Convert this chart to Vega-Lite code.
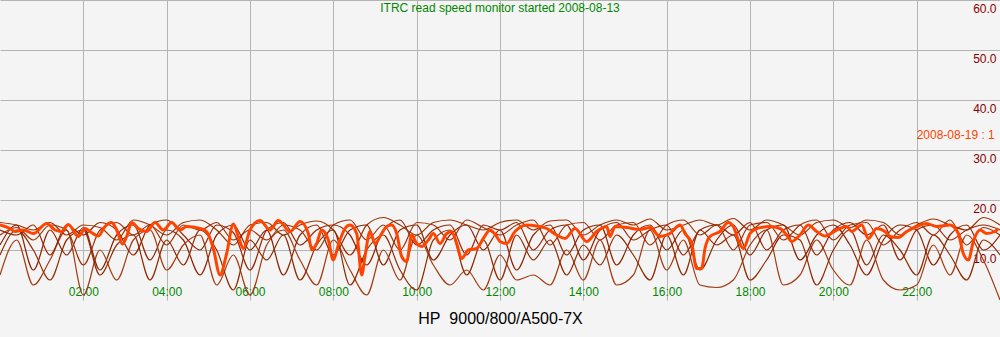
{
"$schema":"https://vega.github.io/schema/vega-lite/v6.json",
"width":1000,"height":300,"autosize":"none","padding":{"top":0,"left":0,"right":0,"bottom":37},
"background":"#f4f4f4",
"config":{"view":{"stroke":null},"font":"Liberation Sans"},
"title":{"text":"ITRC read speed monitor started 2008-08-13","anchor":"middle","color":"#008800","fontSize":12,"fontWeight":"normal","font":"Liberation Sans","baseline":"top","offset":-15},
"datasets":{
"orange":[
{"h":0.00,"v":15.0},{"h":0.24,"v":14.3},{"h":0.36,"v":13.7},{"h":0.56,"v":14.0},{"h":0.80,"v":13.3},{"h":1.12,"v":15.3},{"h":1.32,"v":14.0},{"h":1.48,"v":13.7},{"h":1.64,"v":15.1},{"h":1.88,"v":12.7},{"h":2.04,"v":14.3},{"h":2.16,"v":13.7},{"h":2.36,"v":12.8},{"h":2.52,"v":14.7},{"h":2.68,"v":15.5},{"h":2.80,"v":14.0},{"h":2.94,"v":11.2},{"h":3.04,"v":12.7},{"h":3.16,"v":15.5},{"h":3.32,"v":14.3},{"h":3.52,"v":13.7},{"h":3.72,"v":15.5},{"h":3.92,"v":14.0},{"h":4.12,"v":15.5},{"h":4.32,"v":14.0},{"h":4.48,"v":14.7},{"h":4.80,"v":14.3},{"h":4.96,"v":13.7},{"h":5.12,"v":10.3},{"h":5.28,"v":5.0},{"h":5.44,"v":9.3},{"h":5.60,"v":15.2},{"h":5.72,"v":12.7},{"h":5.84,"v":10.3},{"h":6.00,"v":14.0},
{"h":6.24,"v":15.9},{"h":6.48,"v":14.0},{"h":6.68,"v":15.9},{"h":6.96,"v":13.7},{"h":7.20,"v":15.7},{"h":7.40,"v":13.3},{"h":7.48,"v":10.0},{"h":7.60,"v":11.3},{"h":7.72,"v":14.0},{"h":7.88,"v":12.0},{"h":8.00,"v":8.0},{"h":8.12,"v":11.0},{"h":8.28,"v":14.3},{"h":8.40,"v":15.0},{"h":8.56,"v":13.3},{"h":8.68,"v":5.0},{"h":8.76,"v":8.7},{"h":8.88,"v":13.7},{"h":9.00,"v":11.3},{"h":9.16,"v":13.3},{"h":9.28,"v":14.7},{"h":9.40,"v":15.0},{"h":9.52,"v":13.3},{"h":9.64,"v":8.7},{"h":9.76,"v":7.7},{"h":9.88,"v":13.0},{"h":10.00,"v":11.3},{"h":10.12,"v":10.7},{"h":10.28,"v":12.0},{"h":10.40,"v":13.3},{"h":10.56,"v":11.3},{"h":10.72,"v":13.3},{"h":10.84,"v":13.7},{"h":10.96,"v":11.3},{"h":11.08,"v":8.3},{"h":11.24,"v":10.0},{"h":11.44,"v":10.3},{"h":11.60,"v":12.3},{"h":11.76,"v":14.0},{"h":11.92,"v":12.7},
{"h":12.00,"v":11.7},{"h":12.16,"v":11.3},{"h":12.36,"v":13.7},{"h":12.64,"v":15.0},{"h":12.88,"v":14.8},{"h":13.12,"v":14.3},{"h":13.36,"v":13.0},{"h":13.56,"v":12.3},{"h":13.80,"v":14.3},{"h":14.08,"v":11.7},{"h":14.32,"v":13.7},{"h":14.56,"v":14.7},{"h":14.64,"v":12.7},{"h":14.76,"v":14.7},{"h":15.04,"v":14.5},{"h":15.36,"v":14.1},{"h":15.60,"v":14.5},{"h":15.84,"v":12.7},{"h":16.08,"v":13.3},{"h":16.32,"v":15.0},{"h":16.44,"v":13.3},{"h":16.60,"v":11.3},{"h":16.72,"v":6.3},{"h":16.84,"v":6.3},{"h":16.92,"v":10.3},{"h":17.04,"v":12.7},{"h":17.28,"v":13.7},{"h":17.48,"v":15.5},{"h":17.60,"v":14.7},{"h":17.72,"v":12.0},{"h":17.84,"v":10.3},
{"h":18.00,"v":13.3},{"h":18.16,"v":14.3},{"h":18.48,"v":14.7},{"h":18.72,"v":14.3},{"h":18.88,"v":13.0},{"h":19.00,"v":11.7},{"h":19.20,"v":13.0},{"h":19.40,"v":15.0},{"h":19.60,"v":13.7},{"h":19.80,"v":12.8},{"h":20.08,"v":14.0},{"h":20.32,"v":14.7},{"h":20.44,"v":13.7},{"h":20.68,"v":15.0},{"h":20.84,"v":12.3},{"h":21.04,"v":14.3},{"h":21.24,"v":13.7},{"h":21.36,"v":12.7},{"h":21.56,"v":12.5},{"h":21.76,"v":13.7},{"h":22.00,"v":14.7},{"h":22.24,"v":15.3},{"h":22.48,"v":14.7},{"h":22.80,"v":15.0},{"h":23.00,"v":13.3},{"h":23.12,"v":9.3},{"h":23.24,"v":8.0},{"h":23.36,"v":11.7},{"h":23.52,"v":14.0},{"h":23.68,"v":13.3},{"h":23.88,"v":13.7},{"h":23.96,"v":14.3}
],
"brown":[
{"s":"A","h":0,"v":15.5},{"s":"A","h":0.4,"v":15},{"s":"A","h":0.8,"v":14},{"s":"A","h":1.2,"v":15.5},{"s":"A","h":1.6,"v":13},{"s":"A","h":2.0,"v":15},{"s":"A","h":2.4,"v":14.5},{"s":"A","h":2.8,"v":12},{"s":"A","h":3.2,"v":16},{"s":"A","h":3.6,"v":15},{"s":"A","h":4.0,"v":13},{"s":"A","h":4.4,"v":15.5},{"s":"A","h":4.8,"v":16},{"s":"A","h":5.2,"v":14},{"s":"A","h":5.6,"v":11},{"s":"A","h":6.0,"v":15},{"s":"A","h":6.4,"v":15.5},{"s":"A","h":6.8,"v":13},{"s":"A","h":7.2,"v":15},{"s":"A","h":7.6,"v":15.8},{"s":"A","h":8.0,"v":14},{"s":"A","h":8.4,"v":9},{"s":"A","h":8.8,"v":15},{"s":"A","h":9.2,"v":16.5},{"s":"A","h":9.6,"v":15},{"s":"A","h":10.0,"v":13},{"s":"A","h":10.4,"v":15.5},{"s":"A","h":10.8,"v":16},{"s":"A","h":11.2,"v":15},{"s":"A","h":11.6,"v":14},{"s":"A","h":12.0,"v":15.5},{"s":"A","h":12.4,"v":16},{"s":"A","h":12.8,"v":14},{"s":"A","h":13.2,"v":15.8},{"s":"A","h":13.6,"v":16},{"s":"A","h":14.0,"v":13},{"s":"A","h":14.4,"v":15},{"s":"A","h":14.8,"v":16},{"s":"A","h":15.2,"v":15},{"s":"A","h":15.6,"v":16.2},{"s":"A","h":16.0,"v":14},{"s":"A","h":16.4,"v":15},{"s":"A","h":16.8,"v":16},{"s":"A","h":17.2,"v":15},{"s":"A","h":17.6,"v":16.3},{"s":"A","h":18.0,"v":14},{"s":"A","h":18.4,"v":16},{"s":"A","h":18.8,"v":15},{"s":"A","h":19.2,"v":13},{"s":"A","h":19.6,"v":15.5},{"s":"A","h":20.0,"v":16},{"s":"A","h":20.4,"v":14.5},{"s":"A","h":20.8,"v":16},{"s":"A","h":21.2,"v":15.5},{"s":"A","h":21.6,"v":13},{"s":"A","h":22.0,"v":15},{"s":"A","h":22.4,"v":16.2},{"s":"A","h":22.8,"v":15},{"s":"A","h":23.2,"v":14},{"s":"A","h":23.6,"v":16.5},{"s":"A","h":24.0,"v":15},
{"s":"B","h":0,"v":11},{"s":"B","h":0.4,"v":15},{"s":"B","h":0.8,"v":6},{"s":"B","h":1.2,"v":14},{"s":"B","h":1.6,"v":9},{"s":"B","h":2.0,"v":14.5},{"s":"B","h":2.4,"v":6},{"s":"B","h":2.8,"v":13},{"s":"B","h":3.2,"v":15},{"s":"B","h":3.6,"v":8},{"s":"B","h":4.0,"v":14},{"s":"B","h":4.4,"v":12},{"s":"B","h":4.8,"v":5},{"s":"B","h":5.2,"v":13},{"s":"B","h":5.6,"v":15},{"s":"B","h":6.0,"v":10},{"s":"B","h":6.4,"v":14},{"s":"B","h":6.8,"v":5},{"s":"B","h":7.2,"v":13},{"s":"B","h":7.6,"v":15},{"s":"B","h":8.0,"v":9},{"s":"B","h":8.4,"v":14},{"s":"B","h":8.8,"v":15},{"s":"B","h":9.2,"v":7},{"s":"B","h":9.6,"v":14},{"s":"B","h":10.0,"v":15},{"s":"B","h":10.4,"v":8},{"s":"B","h":10.8,"v":13},{"s":"B","h":11.2,"v":15},{"s":"B","h":11.6,"v":10},{"s":"B","h":12.0,"v":14},{"s":"B","h":12.4,"v":6},{"s":"B","h":12.8,"v":13},{"s":"B","h":13.2,"v":15},{"s":"B","h":13.6,"v":9},{"s":"B","h":14.0,"v":14},{"s":"B","h":14.4,"v":15},{"s":"B","h":14.8,"v":7},{"s":"B","h":15.2,"v":13},{"s":"B","h":15.6,"v":15},{"s":"B","h":16.0,"v":10},{"s":"B","h":16.4,"v":14},{"s":"B","h":16.8,"v":6},{"s":"B","h":17.2,"v":12},{"s":"B","h":17.6,"v":15},{"s":"B","h":18.0,"v":9},{"s":"B","h":18.4,"v":14},{"s":"B","h":18.8,"v":15},{"s":"B","h":19.2,"v":8},{"s":"B","h":19.6,"v":13},{"s":"B","h":20.0,"v":15},{"s":"B","h":20.4,"v":11},{"s":"B","h":20.8,"v":5},{"s":"B","h":21.2,"v":12},{"s":"B","h":21.6,"v":15},{"s":"B","h":22.0,"v":14},{"s":"B","h":22.4,"v":7},{"s":"B","h":22.8,"v":13},{"s":"B","h":23.2,"v":15},{"s":"B","h":23.6,"v":10},{"s":"B","h":24.0,"v":13},
{"s":"C","h":0,"v":5},{"s":"C","h":0.4,"v":12},{"s":"C","h":0.8,"v":3},{"s":"C","h":1.2,"v":8},{"s":"C","h":1.6,"v":14},{"s":"C","h":2.0,"v":1},{"s":"C","h":2.4,"v":10},{"s":"C","h":2.8,"v":4},{"s":"C","h":3.2,"v":12},{"s":"C","h":3.6,"v":14},{"s":"C","h":4.0,"v":6},{"s":"C","h":4.4,"v":11},{"s":"C","h":4.8,"v":13},{"s":"C","h":5.2,"v":3},{"s":"C","h":5.6,"v":9},{"s":"C","h":6.0,"v":1},{"s":"C","h":6.4,"v":11},{"s":"C","h":6.8,"v":14},{"s":"C","h":7.2,"v":8},{"s":"C","h":7.6,"v":3},{"s":"C","h":8.0,"v":12},{"s":"C","h":8.4,"v":6},{"s":"C","h":8.8,"v":1},{"s":"C","h":9.2,"v":10},{"s":"C","h":9.6,"v":4},{"s":"C","h":10.0,"v":13},{"s":"C","h":10.4,"v":7},{"s":"C","h":10.8,"v":3},{"s":"C","h":11.2,"v":6},{"s":"C","h":11.6,"v":2},{"s":"C","h":12.0,"v":9},{"s":"C","h":12.4,"v":4},{"s":"C","h":12.8,"v":5},{"s":"C","h":13.2,"v":3},{"s":"C","h":13.6,"v":10},{"s":"C","h":14.0,"v":4},{"s":"C","h":14.4,"v":12},{"s":"C","h":14.8,"v":3},{"s":"C","h":15.2,"v":5},{"s":"C","h":15.6,"v":14},{"s":"C","h":16.0,"v":6},{"s":"C","h":16.4,"v":12},{"s":"C","h":16.8,"v":3},{"s":"C","h":17.2,"v":2.5},{"s":"C","h":17.6,"v":4},{"s":"C","h":18.0,"v":11},{"s":"C","h":18.4,"v":14},{"s":"C","h":18.8,"v":3},{"s":"C","h":19.2,"v":5},{"s":"C","h":19.6,"v":12},{"s":"C","h":20.0,"v":6},{"s":"C","h":20.4,"v":3},{"s":"C","h":20.8,"v":12},{"s":"C","h":21.2,"v":4},{"s":"C","h":21.6,"v":2},{"s":"C","h":22.0,"v":3},{"s":"C","h":22.4,"v":11},{"s":"C","h":22.8,"v":5},{"s":"C","h":23.2,"v":13},{"s":"C","h":23.6,"v":8},{"s":"C","h":24.0,"v":0},
{"s":"D","h":0,"v":14},{"s":"D","h":0.4,"v":13},{"s":"D","h":0.8,"v":15},{"s":"D","h":1.2,"v":9},{"s":"D","h":1.6,"v":15},{"s":"D","h":2.0,"v":13},{"s":"D","h":2.4,"v":15.5},{"s":"D","h":2.8,"v":14},{"s":"D","h":3.2,"v":9},{"s":"D","h":3.6,"v":15},{"s":"D","h":4.0,"v":16},{"s":"D","h":4.4,"v":13},{"s":"D","h":4.8,"v":10},{"s":"D","h":5.2,"v":15},{"s":"D","h":5.6,"v":13.5},{"s":"D","h":6.0,"v":6},{"s":"D","h":6.4,"v":14},{"s":"D","h":6.8,"v":15.5},{"s":"D","h":7.2,"v":11},{"s":"D","h":7.6,"v":14},{"s":"D","h":8.0,"v":15},{"s":"D","h":8.4,"v":13},{"s":"D","h":8.8,"v":7},{"s":"D","h":9.2,"v":14},{"s":"D","h":9.6,"v":16},{"s":"D","h":10.0,"v":11},{"s":"D","h":10.4,"v":14},{"s":"D","h":10.8,"v":15},{"s":"D","h":11.2,"v":9},{"s":"D","h":11.6,"v":15},{"s":"D","h":12.0,"v":14},{"s":"D","h":12.4,"v":15.5},{"s":"D","h":12.8,"v":10},{"s":"D","h":13.2,"v":14},{"s":"D","h":13.6,"v":15},{"s":"D","h":14.0,"v":8},{"s":"D","h":14.4,"v":14},{"s":"D","h":14.8,"v":15.5},{"s":"D","h":15.2,"v":12},{"s":"D","h":15.6,"v":14},{"s":"D","h":16.0,"v":15},{"s":"D","h":16.4,"v":9},{"s":"D","h":16.8,"v":14},{"s":"D","h":17.2,"v":15},{"s":"D","h":17.6,"v":13},{"s":"D","h":18.0,"v":15.5},{"s":"D","h":18.4,"v":10},{"s":"D","h":18.8,"v":14},{"s":"D","h":19.2,"v":15},{"s":"D","h":19.6,"v":9},{"s":"D","h":20.0,"v":14},{"s":"D","h":20.4,"v":15.5},{"s":"D","h":20.8,"v":13},{"s":"D","h":21.2,"v":15},{"s":"D","h":21.6,"v":8},{"s":"D","h":22.0,"v":14},{"s":"D","h":22.4,"v":15},{"s":"D","h":22.8,"v":12},{"s":"D","h":23.2,"v":14},{"s":"D","h":23.6,"v":15},{"s":"D","h":24.0,"v":14},
{"s":"E","h":0,"v":9},{"s":"E","h":0.4,"v":14},{"s":"E","h":0.8,"v":10},{"s":"E","h":1.2,"v":4},{"s":"E","h":1.6,"v":12},{"s":"E","h":2.0,"v":14},{"s":"E","h":2.4,"v":5},{"s":"E","h":2.8,"v":11},{"s":"E","h":3.2,"v":13},{"s":"E","h":3.6,"v":4},{"s":"E","h":4.0,"v":12},{"s":"E","h":4.4,"v":7},{"s":"E","h":4.8,"v":14},{"s":"E","h":5.2,"v":10},{"s":"E","h":5.6,"v":2},{"s":"E","h":6.0,"v":12},{"s":"E","h":6.4,"v":8},{"s":"E","h":6.8,"v":13},{"s":"E","h":7.2,"v":4},{"s":"E","h":7.6,"v":11},{"s":"E","h":8.0,"v":14},{"s":"E","h":8.4,"v":3},{"s":"E","h":8.8,"v":10},{"s":"E","h":9.2,"v":13},{"s":"E","h":9.6,"v":6},{"s":"E","h":10.0,"v":2},{"s":"E","h":10.4,"v":12},{"s":"E","h":10.8,"v":14},{"s":"E","h":11.2,"v":5},{"s":"E","h":11.6,"v":12},{"s":"E","h":12.0,"v":4},{"s":"E","h":12.4,"v":13},{"s":"E","h":12.8,"v":8},{"s":"E","h":13.2,"v":12},{"s":"E","h":13.6,"v":5},{"s":"E","h":14.0,"v":11},{"s":"E","h":14.4,"v":7},{"s":"E","h":14.8,"v":13},{"s":"E","h":15.2,"v":9},{"s":"E","h":15.6,"v":4},{"s":"E","h":16.0,"v":13},{"s":"E","h":16.4,"v":5},{"s":"E","h":16.8,"v":14},{"s":"E","h":17.2,"v":11},{"s":"E","h":17.6,"v":13},{"s":"E","h":18.0,"v":4},{"s":"E","h":18.4,"v":8},{"s":"E","h":18.8,"v":13},{"s":"E","h":19.2,"v":12},{"s":"E","h":19.6,"v":3},{"s":"E","h":20.0,"v":10},{"s":"E","h":20.4,"v":14},{"s":"E","h":20.8,"v":7},{"s":"E","h":21.2,"v":13},{"s":"E","h":21.6,"v":10},{"s":"E","h":22.0,"v":5},{"s":"E","h":22.4,"v":13},{"s":"E","h":22.8,"v":9},{"s":"E","h":23.2,"v":4},{"s":"E","h":23.6,"v":12},{"s":"E","h":24.0,"v":9},
{"s":"F","h":0,"v":13},{"s":"F","h":0.4,"v":14.5},{"s":"F","h":0.8,"v":12},{"s":"F","h":1.2,"v":15},{"s":"F","h":1.6,"v":14},{"s":"F","h":2.0,"v":7},{"s":"F","h":2.4,"v":14},{"s":"F","h":2.8,"v":15.5},{"s":"F","h":3.2,"v":13},{"s":"F","h":3.6,"v":15},{"s":"F","h":4.0,"v":11},{"s":"F","h":4.4,"v":15},{"s":"F","h":4.8,"v":14},{"s":"F","h":5.2,"v":15.5},{"s":"F","h":5.6,"v":12},{"s":"F","h":6.0,"v":14},{"s":"F","h":6.4,"v":12},{"s":"F","h":6.8,"v":15},{"s":"F","h":7.2,"v":14},{"s":"F","h":7.6,"v":10},{"s":"F","h":8.0,"v":15},{"s":"F","h":8.4,"v":16},{"s":"F","h":8.8,"v":12},{"s":"F","h":9.2,"v":15},{"s":"F","h":9.6,"v":10},{"s":"F","h":10.0,"v":15.5},{"s":"F","h":10.4,"v":15},{"s":"F","h":10.8,"v":12},{"s":"F","h":11.2,"v":16},{"s":"F","h":11.6,"v":14.5},{"s":"F","h":12.0,"v":13},{"s":"F","h":12.4,"v":15},{"s":"F","h":12.8,"v":16},{"s":"F","h":13.2,"v":11},{"s":"F","h":13.6,"v":15},{"s":"F","h":14.0,"v":15.5},{"s":"F","h":14.4,"v":12},{"s":"F","h":14.8,"v":15},{"s":"F","h":15.2,"v":15.5},{"s":"F","h":15.6,"v":11},{"s":"F","h":16.0,"v":15},{"s":"F","h":16.4,"v":16},{"s":"F","h":16.8,"v":13},{"s":"F","h":17.2,"v":15},{"s":"F","h":17.6,"v":10},{"s":"F","h":18.0,"v":15},{"s":"F","h":18.4,"v":15.5},{"s":"F","h":18.8,"v":12},{"s":"F","h":19.2,"v":15},{"s":"F","h":19.6,"v":16},{"s":"F","h":20.0,"v":12},{"s":"F","h":20.4,"v":15},{"s":"F","h":20.8,"v":15.5},{"s":"F","h":21.2,"v":11},{"s":"F","h":21.6,"v":14},{"s":"F","h":22.0,"v":15.5},{"s":"F","h":22.4,"v":13},{"s":"F","h":22.8,"v":16},{"s":"F","h":23.2,"v":11},{"s":"F","h":23.6,"v":14.5},{"s":"F","h":24.0,"v":13}
],
"legend":[{"label":"2008-08-19 : 1","h":22,"v":33}]
},
"encoding":{
"x":{"field":"h","type":"quantitative","scale":{"domain":[0,24],"nice":false,"zero":false},
"axis":{"values":[2,4,6,8,10,12,14,16,18,20,22],"labelExpr":"(datum.value<10?'0':'')+datum.value+':00'","grid":true,"gridColor":"#b4b4b4","domain":false,"ticks":false,"labelColor":"#008800","labelFont":"Liberation Sans","labelFontSize":12,"labelPadding":-14,"labelBaseline":"top","title":"HP\u00a0 9000/800/A500-7X","titleFont":"Liberation Sans","titleFontSize":16,"titleFontWeight":"normal","titleColor":"#000000","titleBaseline":"middle","titleY":18}},
"y":{"field":"v","type":"quantitative","scale":{"domain":[0,60],"nice":false,"zero":false},
"axis":{"orient":"right","values":[10,20,30,40,50,60],"format":".1f","grid":true,"gridColor":"#b4b4b4","domain":false,"ticks":false,"labelColor":"#880000","labelFont":"Liberation Sans","labelFontSize":12,"labelAlign":"right","labelBaseline":"top","labelPadding":-4,"labelOffset":3,"title":null}}
},
"layer":[
{"data":{"name":"brown"},"mark":{"type":"line","interpolate":"monotone","strokeWidth":1.2},
"encoding":{"color":{"field":"s","type":"nominal","scale":{"domain":["A","B","C","D","E","F"],"range":["#993300","#8b2200","#a33a10","#992200","#8f2a00","#a02f05"]},"legend":null}}},
{"data":{"name":"orange"},"mark":{"type":"line","interpolate":"monotone","strokeWidth":3,"color":"#ff4400"}},
{"data":{"name":"legend"},"mark":{"type":"text","align":"left","baseline":"middle","color":"#ff4400","fontSize":12,"font":"Liberation Sans"},"encoding":{"text":{"field":"label"}}}
]
}
